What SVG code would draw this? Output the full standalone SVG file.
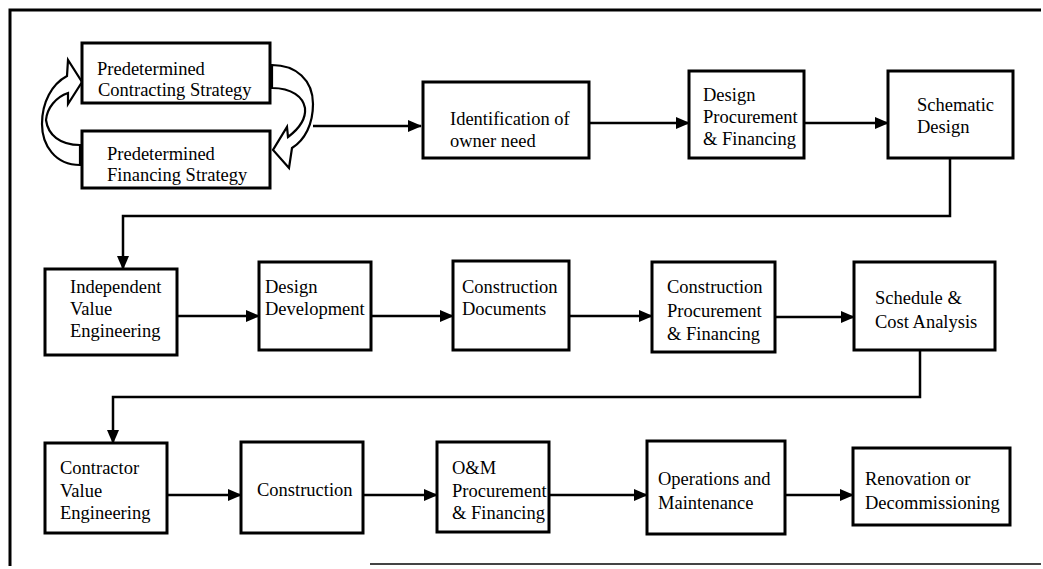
<svg xmlns="http://www.w3.org/2000/svg" width="1043" height="569" viewBox="0 0 1043 569">
<defs>
<marker id="ah" markerWidth="14" markerHeight="12" refX="13" refY="6" orient="auto" markerUnits="userSpaceOnUse"><path d="M0,0 L14,6 L0,12 Z" fill="#000"/></marker>
<style>
.box{fill:#fff;stroke:#000;stroke-width:3}
.t{font-family:"Liberation Serif","Times New Roman",serif;font-size:18.5px;fill:#000}
.c{fill:none;stroke:#000;stroke-width:2.5}
.ca{fill:#fff;stroke:#000;stroke-width:2.2;stroke-linejoin:miter}
.frame{fill:none;stroke:#000;stroke-width:3}
</style>
</defs>
<rect width="1043" height="569" fill="#fff"/>
<g id="frame">
<path class="frame" d="M10,566 V10 H1041"/>
<path d="M370,564 H1041" stroke="#444" stroke-width="2" fill="none"/>
</g>
<g id="connectors">
<path class="ca" d="M80,165 C55,165 42,145 42,124 C42,102 52,84 67,76 L68,60 L82,82 L68,104 L68,93 C56,97 47,108 46,120 C48,135 60,145 80,145 Z"/>
<path class="ca" d="M272,65 C296,65 313,80 313,104 C313,124 305,140 292,148 L289,168 L273,150 L287,127 L288,137 C300,128 306,118 305,108 C303,97 292,88 272,88 Z"/>
<path class="c" d="M313,126 H421" marker-end="url(#ah)"/>
<path class="c" d="M589,123 H689" marker-end="url(#ah)"/>
<path class="c" d="M804,123 H888" marker-end="url(#ah)"/>
<path class="c" d="M950,158 V216 H123 V269" marker-end="url(#ah)"/>
<path class="c" d="M177,316 H259" marker-end="url(#ah)"/>
<path class="c" d="M371,316 H453" marker-end="url(#ah)"/>
<path class="c" d="M569,316 H652" marker-end="url(#ah)"/>
<path class="c" d="M775,317 H854" marker-end="url(#ah)"/>
<path class="c" d="M920,350 V397 H113 V443" marker-end="url(#ah)"/>
<path class="c" d="M167,495 H241" marker-end="url(#ah)"/>
<path class="c" d="M363,495 H437" marker-end="url(#ah)"/>
<path class="c" d="M549,495 H647" marker-end="url(#ah)"/>
<path class="c" d="M785,495 H853" marker-end="url(#ah)"/>
</g>
<g id="n-contracting"><rect class="box" x="82" y="43" width="188" height="60"/><text class="t" x="97" y="75">Predetermined</text><text class="t" x="98" y="96">Contracting Strategy</text></g>
<g id="n-financing"><rect class="box" x="82" y="131" width="188" height="57"/><text class="t" x="107" y="160">Predetermined</text><text class="t" x="107" y="181">Financing Strategy</text></g>
<g id="n-identification"><rect class="box" x="423" y="82" width="166" height="76"/><text class="t" x="450" y="125">Identification of</text><text class="t" x="450" y="147">owner need</text></g>
<g id="n-design-procurement"><rect class="box" x="689" y="71" width="115" height="87"/><text class="t" x="703" y="101">Design</text><text class="t" x="703" y="123">Procurement</text><text class="t" x="703" y="145">&amp; Financing</text></g>
<g id="n-schematic"><rect class="box" x="888" y="71" width="125" height="87"/><text class="t" x="917" y="111">Schematic</text><text class="t" x="917" y="133">Design</text></g>
<g id="n-independent-ve"><rect class="box" x="45" y="269" width="132" height="86"/><text class="t" x="70" y="293">Independent</text><text class="t" x="70" y="315">Value</text><text class="t" x="70" y="337">Engineering</text></g>
<g id="n-design-development"><rect class="box" x="259" y="262" width="112" height="88"/><text class="t" x="265" y="293">Design</text><text class="t" x="265" y="315">Development</text></g>
<g id="n-construction-documents"><rect class="box" x="453" y="261" width="116" height="89"/><text class="t" x="462" y="293">Construction</text><text class="t" x="462" y="315">Documents</text></g>
<g id="n-construction-procurement"><rect class="box" x="652" y="262" width="123" height="90"/><text class="t" x="667" y="293">Construction</text><text class="t" x="667" y="317">Procurement</text><text class="t" x="667" y="340">&amp; Financing</text></g>
<g id="n-schedule"><rect class="box" x="854" y="262" width="141" height="88"/><text class="t" x="875" y="304">Schedule &amp;</text><text class="t" x="875" y="328">Cost Analysis</text></g>
<g id="n-contractor-ve"><rect class="box" x="45" y="443" width="122" height="90"/><text class="t" x="60" y="474">Contractor</text><text class="t" x="60" y="497">Value</text><text class="t" x="60" y="519">Engineering</text></g>
<g id="n-construction"><rect class="box" x="241" y="442" width="122" height="91"/><text class="t" x="257" y="496">Construction</text></g>
<g id="n-om-procurement"><rect class="box" x="437" y="442" width="112" height="90"/><text class="t" x="452" y="474">O&amp;M</text><text class="t" x="452" y="497">Procurement</text><text class="t" x="452" y="519">&amp; Financing</text></g>
<g id="n-operations"><rect class="box" x="647" y="441" width="138" height="93"/><text class="t" x="658" y="485">Operations and</text><text class="t" x="658" y="509">Maintenance</text></g>
<g id="n-renovation"><rect class="box" x="853" y="448" width="157" height="77"/><text class="t" x="865" y="485">Renovation or</text><text class="t" x="865" y="509">Decommissioning</text></g>
</svg>
